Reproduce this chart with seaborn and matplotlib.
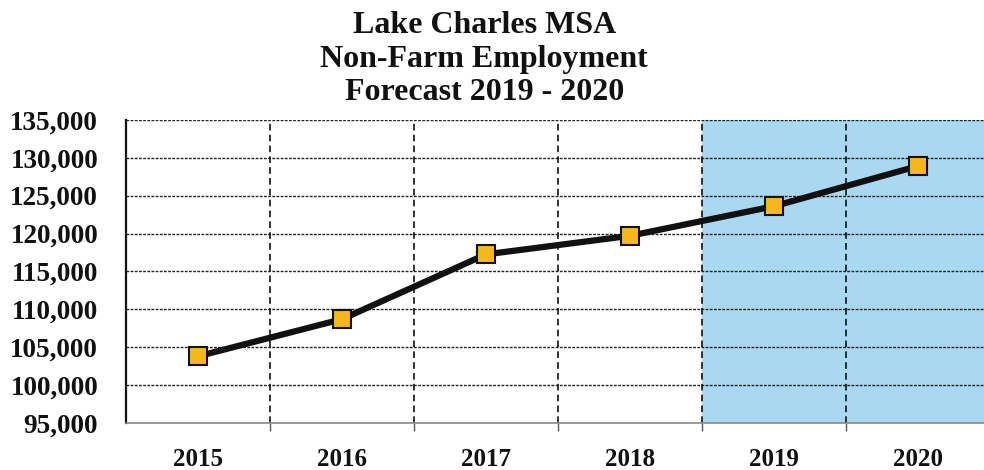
import matplotlib
matplotlib.use("Agg")
import matplotlib.pyplot as plt
import seaborn as sns
import pandas as pd
from matplotlib.ticker import FuncFormatter, MultipleLocator, FixedLocator

years = ["2015", "2016", "2017", "2018", "2019", "2020"]
employment = [103800, 108700, 117250, 119700, 123600, 128900]
forecast_years = ["2019", "2020"]
title_lines = ["Lake Charles MSA", "Non-Farm Employment", "Forecast 2019 - 2020"]

df = pd.DataFrame({"year": years, "jobs": employment})

sns.set_theme(style="white")
plt.rcParams["font.family"] = ["Liberation Serif", "DejaVu Serif"]
plt.rcParams["font.weight"] = "bold"

fig = plt.figure(figsize=(9.84, 4.70), dpi=100)
ax = fig.add_axes([0.128, 0.10, 0.878, 0.645])

# forecast band
first_fc = years.index(forecast_years[0])
ax.axvspan(first_fc - 0.5, len(years) - 0.5, color="#a9d8f1", zorder=0, lw=0)

# grid: fine dashes horizontally, longer dashes between categories
for yv in range(100000, 135001, 5000):
    ax.axhline(yv, color="#222222", lw=1.0, ls=(0, (2, 1)), zorder=1)
for xv in range(len(years) - 1):
    ax.axvline(xv + 0.5, color="#111111", lw=1.2, ls=(0, (4, 2.5)), zorder=1)

sns.lineplot(data=df, x="year", y="jobs", ax=ax, color="#111111", lw=4.5,
             marker="s", markersize=13.5, markerfacecolor="#f5b81c",
             markeredgecolor="#111111", markeredgewidth=1.5, zorder=3,
             sort=False)

ax.set_xlim(-0.5, len(years) - 0.5)
ax.set_ylim(95000, 135000)
ax.yaxis.set_major_locator(MultipleLocator(5000))
ax.yaxis.set_major_formatter(FuncFormatter(lambda v, p: f"{int(v):,}"))
ax.xaxis.set_minor_locator(FixedLocator([i + 0.5 for i in range(len(years) - 1)]))
ax.set_xlabel("")
ax.set_ylabel("")

for s in ["top", "right"]:
    ax.spines[s].set_visible(False)
ax.spines["left"].set_color("#111111")
ax.spines["left"].set_linewidth(1.6)
ax.spines["bottom"].set_color("#888888")
ax.spines["bottom"].set_linewidth(1.2)

ax.tick_params(axis="y", which="major", direction="out", length=8,
               width=1.2, color="#222222", labelsize=19.5, pad=12)
ax.tick_params(axis="x", which="major", direction="out", length=6,
               width=1.0, color="#555555", labelsize=18, pad=12)
ax.tick_params(axis="x", which="minor", direction="out", length=6,
               width=1.0, color="#555555", bottom=True)
for lbl in ax.get_xticklabels() + ax.get_yticklabels():
    lbl.set_fontweight("bold")
    lbl.set_color("#111111")

fig.text(0.492, 0.976, "\n".join(title_lines), ha="center", va="top",
         fontsize=23, fontweight="bold", color="#111111", linespacing=1.2)

fig.savefig("out.png", dpi=100, facecolor="white")
